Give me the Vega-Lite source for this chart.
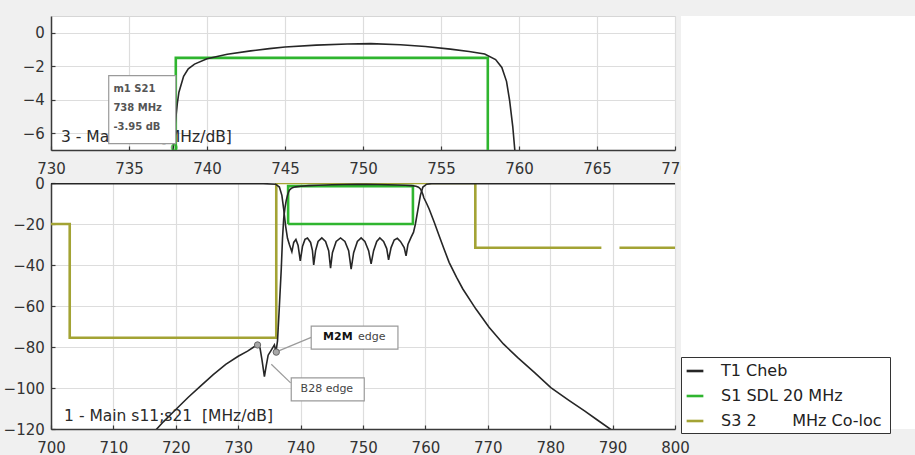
{
"$schema": "https://vega.github.io/schema/vega-lite/v6.json",
"background": "#f0f0f0",
"padding": {"left": 0, "top": 15, "right": 0, "bottom": 0},
"bounds": "flush",
"spacing": 630,
"config": {
  "font": "DejaVu Sans",
  "view": {"stroke": "#d6d6d6", "fill": "white"},
  "axis": {"title": null, "labelFont": "DejaVu Sans", "labelFontSize": 15, "labelColor": "#333333", "gridColor": "#dddddd", "gridWidth": 1.2, "domainColor": "#3a3a3a", "domainWidth": 1.5, "tickColor": "#3a3a3a", "tickSize": -4, "tickWidth": 1.2, "labelFlush": false, "labelOverlap": false},
  "axisX": {"labelPadding": 15.3},
  "axisY": {"labelPadding": 10.7, "minExtent": 50, "maxExtent": 50}
},
"datasets": {
  "curves": [
    {"s": "S3 2\u00a0\u00a0\u00a0\u00a0\u00a0\u00a0 MHz Co-loc", "t": "s3a", "f": 700, "db": -20},
    {"s": "S3 2\u00a0\u00a0\u00a0\u00a0\u00a0\u00a0 MHz Co-loc", "t": "s3a", "f": 703, "db": -20},
    {"s": "S3 2\u00a0\u00a0\u00a0\u00a0\u00a0\u00a0 MHz Co-loc", "t": "s3a", "f": 703, "db": -75.5},
    {"s": "S3 2\u00a0\u00a0\u00a0\u00a0\u00a0\u00a0 MHz Co-loc", "t": "s3a", "f": 736.1, "db": -75.5},
    {"s": "S3 2\u00a0\u00a0\u00a0\u00a0\u00a0\u00a0 MHz Co-loc", "t": "s3a", "f": 736.1, "db": 0},
    {"s": "S3 2\u00a0\u00a0\u00a0\u00a0\u00a0\u00a0 MHz Co-loc", "t": "s3a", "f": 768, "db": 0},
    {"s": "S3 2\u00a0\u00a0\u00a0\u00a0\u00a0\u00a0 MHz Co-loc", "t": "s3a", "f": 768, "db": -31.6},
    {"s": "S3 2\u00a0\u00a0\u00a0\u00a0\u00a0\u00a0 MHz Co-loc", "t": "s3a", "f": 788.2, "db": -31.6},
    {"s": "S3 2\u00a0\u00a0\u00a0\u00a0\u00a0\u00a0 MHz Co-loc", "t": "s3b", "f": 791.1, "db": -31.6},
    {"s": "S3 2\u00a0\u00a0\u00a0\u00a0\u00a0\u00a0 MHz Co-loc", "t": "s3b", "f": 800, "db": -31.6},
    {"s": "S1 SDL 20 MHz", "t": "s1", "f": 738, "db": -20},
    {"s": "S1 SDL 20 MHz", "t": "s1", "f": 738, "db": -1.5},
    {"s": "S1 SDL 20 MHz", "t": "s1", "f": 758, "db": -1.5},
    {"s": "S1 SDL 20 MHz", "t": "s1", "f": 758, "db": -20},
    {"s": "S1 SDL 20 MHz", "t": "s1", "f": 738, "db": -20},
    {"s": "T1 Cheb", "t": "s11", "f": 700, "db": -0.3},
    {"s": "T1 Cheb", "t": "s11", "f": 734, "db": -0.3},
    {"s": "T1 Cheb", "t": "s11", "f": 736, "db": -0.6},
    {"s": "T1 Cheb", "t": "s11", "f": 736.6, "db": -2},
    {"s": "T1 Cheb", "t": "s11", "f": 737.0, "db": -6},
    {"s": "T1 Cheb", "t": "s11", "f": 737.3, "db": -13},
    {"s": "T1 Cheb", "t": "s11", "f": 737.6, "db": -21},
    {"s": "T1 Cheb", "t": "s11", "f": 737.9, "db": -27},
    {"s": "T1 Cheb", "t": "s11", "f": 738.2, "db": -30},
    {"s": "T1 Cheb", "t": "s11", "f": 738.6, "db": -33.5},
    {"s": "T1 Cheb", "t": "s11", "f": 738.9, "db": -29},
    {"s": "T1 Cheb", "t": "s11", "f": 739.25, "db": -27.5},
    {"s": "T1 Cheb", "t": "s11", "f": 739.6, "db": -30.5},
    {"s": "T1 Cheb", "t": "s11", "f": 739.95, "db": -38},
    {"s": "T1 Cheb", "t": "s11", "f": 740.3, "db": -31},
    {"s": "T1 Cheb", "t": "s11", "f": 740.7, "db": -27.5},
    {"s": "T1 Cheb", "t": "s11", "f": 741.1, "db": -26.8},
    {"s": "T1 Cheb", "t": "s11", "f": 741.6, "db": -29},
    {"s": "T1 Cheb", "t": "s11", "f": 741.9, "db": -33},
    {"s": "T1 Cheb", "t": "s11", "f": 742.1, "db": -40},
    {"s": "T1 Cheb", "t": "s11", "f": 742.4, "db": -33},
    {"s": "T1 Cheb", "t": "s11", "f": 742.8, "db": -28.5},
    {"s": "T1 Cheb", "t": "s11", "f": 743.4, "db": -26.8},
    {"s": "T1 Cheb", "t": "s11", "f": 744.0, "db": -28.5},
    {"s": "T1 Cheb", "t": "s11", "f": 744.5, "db": -33},
    {"s": "T1 Cheb", "t": "s11", "f": 744.8, "db": -41.5},
    {"s": "T1 Cheb", "t": "s11", "f": 745.1, "db": -34},
    {"s": "T1 Cheb", "t": "s11", "f": 745.7, "db": -28.5},
    {"s": "T1 Cheb", "t": "s11", "f": 746.4, "db": -26.8},
    {"s": "T1 Cheb", "t": "s11", "f": 747.1, "db": -28.5},
    {"s": "T1 Cheb", "t": "s11", "f": 747.7, "db": -33},
    {"s": "T1 Cheb", "t": "s11", "f": 748.1, "db": -42},
    {"s": "T1 Cheb", "t": "s11", "f": 748.5, "db": -34},
    {"s": "T1 Cheb", "t": "s11", "f": 749.1, "db": -28.5},
    {"s": "T1 Cheb", "t": "s11", "f": 749.7, "db": -26.8},
    {"s": "T1 Cheb", "t": "s11", "f": 750.3, "db": -28.5},
    {"s": "T1 Cheb", "t": "s11", "f": 750.9, "db": -33},
    {"s": "T1 Cheb", "t": "s11", "f": 751.3, "db": -39.5},
    {"s": "T1 Cheb", "t": "s11", "f": 751.7, "db": -33},
    {"s": "T1 Cheb", "t": "s11", "f": 752.2, "db": -28.5},
    {"s": "T1 Cheb", "t": "s11", "f": 752.7, "db": -26.8},
    {"s": "T1 Cheb", "t": "s11", "f": 753.3, "db": -28.5},
    {"s": "T1 Cheb", "t": "s11", "f": 753.8, "db": -32},
    {"s": "T1 Cheb", "t": "s11", "f": 754.1, "db": -37.5},
    {"s": "T1 Cheb", "t": "s11", "f": 754.5, "db": -31.5},
    {"s": "T1 Cheb", "t": "s11", "f": 755.0, "db": -27.8},
    {"s": "T1 Cheb", "t": "s11", "f": 755.5, "db": -27},
    {"s": "T1 Cheb", "t": "s11", "f": 756.0, "db": -28.5},
    {"s": "T1 Cheb", "t": "s11", "f": 756.6, "db": -31.5},
    {"s": "T1 Cheb", "t": "s11", "f": 756.9, "db": -35.5},
    {"s": "T1 Cheb", "t": "s11", "f": 757.2, "db": -30},
    {"s": "T1 Cheb", "t": "s11", "f": 757.7, "db": -26.5},
    {"s": "T1 Cheb", "t": "s11", "f": 758.1, "db": -24},
    {"s": "T1 Cheb", "t": "s11", "f": 758.4, "db": -20},
    {"s": "T1 Cheb", "t": "s11", "f": 758.8, "db": -13},
    {"s": "T1 Cheb", "t": "s11", "f": 759.2, "db": -6},
    {"s": "T1 Cheb", "t": "s11", "f": 759.6, "db": -2},
    {"s": "T1 Cheb", "t": "s11", "f": 760.2, "db": -0.6},
    {"s": "T1 Cheb", "t": "s11", "f": 761, "db": -0.3},
    {"s": "T1 Cheb", "t": "s11", "f": 800, "db": -0.3},
    {"s": "T1 Cheb", "t": "s21", "f": 715, "db": -127},
    {"s": "T1 Cheb", "t": "s21", "f": 716.8, "db": -120.5},
    {"s": "T1 Cheb", "t": "s21", "f": 718, "db": -116.5},
    {"s": "T1 Cheb", "t": "s21", "f": 720, "db": -110.5},
    {"s": "T1 Cheb", "t": "s21", "f": 722, "db": -104.5},
    {"s": "T1 Cheb", "t": "s21", "f": 724, "db": -99},
    {"s": "T1 Cheb", "t": "s21", "f": 726, "db": -93.5},
    {"s": "T1 Cheb", "t": "s21", "f": 728, "db": -88.5},
    {"s": "T1 Cheb", "t": "s21", "f": 730, "db": -84.5},
    {"s": "T1 Cheb", "t": "s21", "f": 731.5, "db": -82},
    {"s": "T1 Cheb", "t": "s21", "f": 732.5, "db": -80},
    {"s": "T1 Cheb", "t": "s21", "f": 733.1, "db": -78.8},
    {"s": "T1 Cheb", "t": "s21", "f": 733.5, "db": -80.5},
    {"s": "T1 Cheb", "t": "s21", "f": 733.8, "db": -86},
    {"s": "T1 Cheb", "t": "s21", "f": 734.2, "db": -94.5},
    {"s": "T1 Cheb", "t": "s21", "f": 734.5, "db": -89},
    {"s": "T1 Cheb", "t": "s21", "f": 734.8, "db": -84},
    {"s": "T1 Cheb", "t": "s21", "f": 735.3, "db": -81.5},
    {"s": "T1 Cheb", "t": "s21", "f": 735.8, "db": -79},
    {"s": "T1 Cheb", "t": "s21", "f": 736.05, "db": -82.5},
    {"s": "T1 Cheb", "t": "s21", "f": 736.3, "db": -77},
    {"s": "T1 Cheb", "t": "s21", "f": 736.6, "db": -60},
    {"s": "T1 Cheb", "t": "s21", "f": 736.9, "db": -42},
    {"s": "T1 Cheb", "t": "s21", "f": 737.1, "db": -27},
    {"s": "T1 Cheb", "t": "s21", "f": 737.3, "db": -17},
    {"s": "T1 Cheb", "t": "s21", "f": 737.5, "db": -12},
    {"s": "T1 Cheb", "t": "s21", "f": 737.7, "db": -8.5},
    {"s": "T1 Cheb", "t": "s21", "f": 737.9, "db": -6},
    {"s": "T1 Cheb", "t": "s21", "f": 738.1, "db": -4.2},
    {"s": "T1 Cheb", "t": "s21", "f": 738.2, "db": -3.55},
    {"s": "T1 Cheb", "t": "s21", "f": 738.5, "db": -2.6},
    {"s": "T1 Cheb", "t": "s21", "f": 738.8, "db": -2.15},
    {"s": "T1 Cheb", "t": "s21", "f": 739.2, "db": -1.87},
    {"s": "T1 Cheb", "t": "s21", "f": 740, "db": -1.55},
    {"s": "T1 Cheb", "t": "s21", "f": 741.3, "db": -1.28},
    {"s": "T1 Cheb", "t": "s21", "f": 742.8, "db": -1.08},
    {"s": "T1 Cheb", "t": "s21", "f": 744, "db": -0.95},
    {"s": "T1 Cheb", "t": "s21", "f": 745, "db": -0.85},
    {"s": "T1 Cheb", "t": "s21", "f": 747, "db": -0.74},
    {"s": "T1 Cheb", "t": "s21", "f": 749, "db": -0.67},
    {"s": "T1 Cheb", "t": "s21", "f": 750.5, "db": -0.65},
    {"s": "T1 Cheb", "t": "s21", "f": 752.4, "db": -0.72},
    {"s": "T1 Cheb", "t": "s21", "f": 754, "db": -0.82},
    {"s": "T1 Cheb", "t": "s21", "f": 755.6, "db": -0.98},
    {"s": "T1 Cheb", "t": "s21", "f": 756.8, "db": -1.12},
    {"s": "T1 Cheb", "t": "s21", "f": 757.8, "db": -1.27},
    {"s": "T1 Cheb", "t": "s21", "f": 758.5, "db": -1.6},
    {"s": "T1 Cheb", "t": "s21", "f": 758.9, "db": -2.07},
    {"s": "T1 Cheb", "t": "s21", "f": 759.2, "db": -2.9},
    {"s": "T1 Cheb", "t": "s21", "f": 759.4, "db": -4.05},
    {"s": "T1 Cheb", "t": "s21", "f": 759.6, "db": -5.6},
    {"s": "T1 Cheb", "t": "s21", "f": 759.75, "db": -7.2},
    {"s": "T1 Cheb", "t": "s21", "f": 760.2, "db": -10},
    {"s": "T1 Cheb", "t": "s21", "f": 760.6, "db": -12.7},
    {"s": "T1 Cheb", "t": "s21", "f": 761.4, "db": -19},
    {"s": "T1 Cheb", "t": "s21", "f": 762.2, "db": -25.7},
    {"s": "T1 Cheb", "t": "s21", "f": 763, "db": -32.3},
    {"s": "T1 Cheb", "t": "s21", "f": 763.8, "db": -38.7},
    {"s": "T1 Cheb", "t": "s21", "f": 765, "db": -46},
    {"s": "T1 Cheb", "t": "s21", "f": 766, "db": -51.7},
    {"s": "T1 Cheb", "t": "s21", "f": 768.1, "db": -61.5},
    {"s": "T1 Cheb", "t": "s21", "f": 770.2, "db": -70.4},
    {"s": "T1 Cheb", "t": "s21", "f": 772.5, "db": -78.5},
    {"s": "T1 Cheb", "t": "s21", "f": 774.8, "db": -85.2},
    {"s": "T1 Cheb", "t": "s21", "f": 777.5, "db": -92.5},
    {"s": "T1 Cheb", "t": "s21", "f": 780.1, "db": -99.8},
    {"s": "T1 Cheb", "t": "s21", "f": 783, "db": -106},
    {"s": "T1 Cheb", "t": "s21", "f": 785.5, "db": -111.2},
    {"s": "T1 Cheb", "t": "s21", "f": 787.5, "db": -115.5},
    {"s": "T1 Cheb", "t": "s21", "f": 789.6, "db": -120},
    {"s": "T1 Cheb", "t": "s21", "f": 791, "db": -123}
  ]
},
"hconcat": [
  {
    "spacing": 33,
    "bounds": "flush",
    "vconcat": [
      {
        "width": 624, "height": 134,
        "layer": [
          {
            "data": {"name": "curves"},
            "transform": [{"filter": "datum.t == 's1'"}],
            "mark": {"type": "line", "clip": true, "strokeWidth": 2.6},
            "encoding": {
              "x": {"field": "f", "type": "quantitative", "scale": {"domain": [730, 770], "nice": false, "zero": false}, "axis": {"values": [730, 735, 740, 745, 750, 755, 760, 765, 770]}},
              "y": {"field": "db", "type": "quantitative", "scale": {"domain": [-7, 1], "nice": false, "zero": false}, "axis": {"values": [-6, -4, -2, 0]}},
              "color": {"field": "s", "type": "nominal", "scale": {"domain": ["T1 Cheb", "S1 SDL 20 MHz", "S3 2\u00a0\u00a0\u00a0\u00a0\u00a0\u00a0 MHz Co-loc"], "range": ["#262626", "#2fb52f", "#a3a334"]},
                "legend": {"orient": "none", "legendX": 630, "legendY": 341, "title": "\u00a0\u00a0\u00a0\u00a0\u00a0", "titleOrient": "right", "titleFontSize": 16, "titlePadding": 4, "symbolType": "stroke", "symbolStrokeWidth": 2.6, "symbolSize": 280, "labelFont": "DejaVu Sans", "labelFontSize": 16, "labelLimit": 400, "labelColor": "#222222", "strokeColor": "#333333", "fillColor": "#ffffff", "padding": 4, "rowPadding": 7, "labelOffset": 16}},
              "detail": {"field": "t"},
              "order": {"value": null}
            }
          },
          {
            "data": {"name": "curves"},
            "transform": [{"filter": "datum.t == 's21'"}],
            "mark": {"type": "line", "clip": true, "strokeWidth": 1.6},
            "encoding": {
              "x": {"field": "f", "type": "quantitative"},
              "y": {"field": "db", "type": "quantitative"},
              "color": {"field": "s", "type": "nominal"},
              "detail": {"field": "t"},
              "order": {"value": null}
            }
          },
          {
            "data": {"values": [{"f": 737.9, "db": -6.85}]},
            "mark": {"type": "point", "shape": "circle", "size": 30, "filled": false, "color": "#2fb52f", "strokeWidth": 1.5, "clip": true},
            "encoding": {"x": {"field": "f", "type": "quantitative"}, "y": {"field": "db", "type": "quantitative"}}
          },
          {
            "data": {"values": [{"f": 730.64, "db": -6.25, "label": "3 - Main s21 [MHz/dB]"}]},
            "mark": {"type": "text", "align": "left", "baseline": "middle", "fontSize": 15.5, "color": "#2a2a2a", "font": "DejaVu Sans"},
            "encoding": {"x": {"field": "f", "type": "quantitative"}, "y": {"field": "db", "type": "quantitative"}, "text": {"field": "label"}}
          },
          {
            "data": {"values": [{"f": 733.7, "f2": 738.0, "db": -2.56, "db2": -6.62}]},
            "mark": {"type": "rect", "fill": "white", "stroke": "#9a9a9a", "strokeWidth": 1.2},
            "encoding": {"x": {"field": "f", "type": "quantitative"}, "x2": {"field": "f2"}, "y": {"field": "db", "type": "quantitative"}, "y2": {"field": "db2"}}
          },
          {
            "data": {"values": [{"f": 734.0, "db": -3.36, "label": "m1  S21"}, {"f": 734.0, "db": -4.5, "label": "738 MHz"}, {"f": 734.0, "db": -5.63, "label": "-3.95 dB"}]},
            "mark": {"type": "text", "align": "left", "baseline": "middle", "fontSize": 10, "fontWeight": "bold", "color": "#555555", "font": "DejaVu Sans"},
            "encoding": {"x": {"field": "f", "type": "quantitative"}, "y": {"field": "db", "type": "quantitative"}, "text": {"field": "label"}}
          }
        ]
      },
      {
        "width": 624, "height": 246,
        "layer": [
          {
            "data": {"name": "curves"},
            "transform": [{"filter": "datum.t == 's1' || datum.t == 's3a' || datum.t == 's3b'"}],
            "mark": {"type": "line", "clip": true, "strokeWidth": 2.6},
            "encoding": {
              "x": {"field": "f", "type": "quantitative", "scale": {"domain": [700, 800], "nice": false, "zero": false}, "axis": {"values": [700, 710, 720, 730, 740, 750, 760, 770, 780, 790, 800]}},
              "y": {"field": "db", "type": "quantitative", "scale": {"domain": [-120, 0], "nice": false, "zero": false}, "axis": {"values": [-120, -100, -80, -60, -40, -20, 0]}},
              "color": {"field": "s", "type": "nominal", "scale": {"domain": ["T1 Cheb", "S1 SDL 20 MHz", "S3 2\u00a0\u00a0\u00a0\u00a0\u00a0\u00a0 MHz Co-loc"], "range": ["#262626", "#2fb52f", "#a3a334"]},
                "legend": {"orient": "none", "legendX": 630, "legendY": 341, "title": "\u00a0\u00a0\u00a0\u00a0\u00a0", "titleOrient": "right", "titleFontSize": 16, "titlePadding": 4, "symbolType": "stroke", "symbolStrokeWidth": 2.6, "symbolSize": 280, "labelFont": "DejaVu Sans", "labelFontSize": 16, "labelLimit": 400, "labelColor": "#222222", "strokeColor": "#333333", "fillColor": "#ffffff", "padding": 4, "rowPadding": 7, "labelOffset": 16}},
              "detail": {"field": "t"},
              "order": {"value": null}
            }
          },
          {
            "data": {"name": "curves"},
            "transform": [{"filter": "datum.t == 's11' || datum.t == 's21'"}],
            "mark": {"type": "line", "clip": true, "strokeWidth": 1.6},
            "encoding": {
              "x": {"field": "f", "type": "quantitative"},
              "y": {"field": "db", "type": "quantitative"},
              "color": {"field": "s", "type": "nominal"},
              "detail": {"field": "t"},
              "order": {"value": null}
            }
          },
          {
            "data": {"values": [{"f": 741.7, "db": -75.3, "f2": 736.4, "db2": -82}, {"f": 738.4, "db": -97.5, "f2": 735.3, "db2": -88.4}]},
            "mark": {"type": "rule", "color": "#9a9a9a", "strokeWidth": 1.2},
            "encoding": {"x": {"field": "f", "type": "quantitative"}, "x2": {"field": "f2"}, "y": {"field": "db", "type": "quantitative"}, "y2": {"field": "db2"}}
          },
          {
            "data": {"values": [{"f": 733.1, "db": -79}, {"f": 736.1, "db": -82.5}]},
            "mark": {"type": "point", "shape": "circle", "size": 40, "filled": true, "fill": "#a8a8a8", "stroke": "#666666", "strokeWidth": 1, "opacity": 1},
            "encoding": {"x": {"field": "f", "type": "quantitative"}, "y": {"field": "db", "type": "quantitative"}}
          },
          {
            "data": {"values": [{"f": 741.7, "f2": 755.6, "db": -69.8, "db2": -81.0}, {"f": 738.5, "f2": 750.2, "db": -95.1, "db2": -106.3}]},
            "mark": {"type": "rect", "fill": "white", "stroke": "#9a9a9a", "strokeWidth": 1.2},
            "encoding": {"x": {"field": "f", "type": "quantitative"}, "x2": {"field": "f2"}, "y": {"field": "db", "type": "quantitative"}, "y2": {"field": "db2"}}
          },
          {
            "data": {"values": [{"f": 743.6, "db": -75.2, "label": "M2M"}]},
            "mark": {"type": "text", "align": "left", "baseline": "middle", "fontSize": 11, "fontWeight": "bold", "color": "#111111", "font": "DejaVu Sans"},
            "encoding": {"x": {"field": "f", "type": "quantitative"}, "y": {"field": "db", "type": "quantitative"}, "text": {"field": "label"}}
          },
          {
            "data": {"values": [{"f": 749.2, "db": -75.2, "label": "edge"}, {"f": 740.0, "db": -100.6, "label": "B28 edge"}]},
            "mark": {"type": "text", "align": "left", "baseline": "middle", "fontSize": 11, "color": "#444444", "font": "DejaVu Sans"},
            "encoding": {"x": {"field": "f", "type": "quantitative"}, "y": {"field": "db", "type": "quantitative"}, "text": {"field": "label"}}
          },
          {
            "data": {"values": [{"f": 702.1, "db": -113.7, "label": "1 - Main s11;s21\u00a0 [MHz/dB]"}]},
            "mark": {"type": "text", "align": "left", "baseline": "middle", "fontSize": 15.5, "color": "#2a2a2a", "font": "DejaVu Sans"},
            "encoding": {"x": {"field": "f", "type": "quantitative"}, "y": {"field": "db", "type": "quantitative"}, "text": {"field": "label"}}
          }
        ]
      }
    ]
  },
  {
    "width": 235, "height": 413,
    "view": {"fill": "white", "stroke": null},
    "data": {"values": [{"a": 1}]},
    "mark": {"type": "point", "opacity": 0},
    "encoding": {}
  }
]
}
